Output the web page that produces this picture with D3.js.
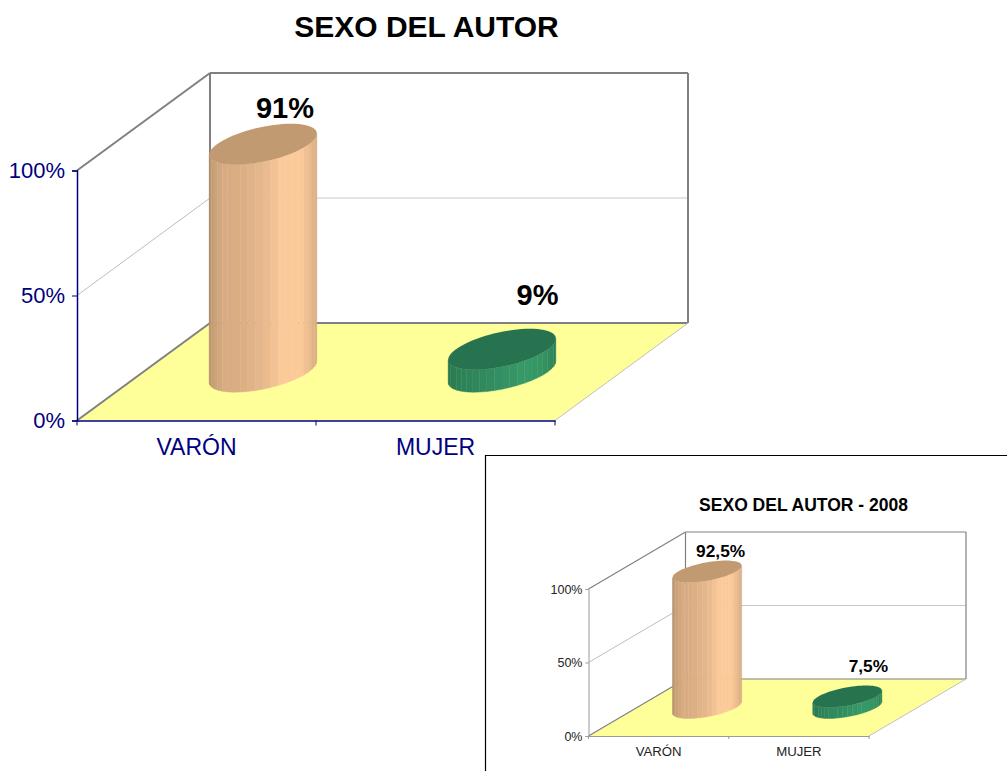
<!DOCTYPE html>
<html><head><meta charset="utf-8">
<style>html,body{margin:0;padding:0;background:#fff;overflow:hidden}svg{display:block}text{font-family:"Liberation Sans",Arial,sans-serif}</style>
<script src="https://cdn.jsdelivr.net/npm/d3@7/dist/d3.min.js"></script>
</head><body><svg id="c" width="1007" height="771"></svg>
<script>
const categories = ["VARÓN", "MUJER"];
const mainValues = [91, 9];
const mainLabels = ["91%", "9%"];
const insetValues = [92.5, 7.5];
const insetLabels = ["92,5%", "7,5%"];
const axisTicks = [0, 50, 100];
const tanStops = ["#ad8965", "#c6a079", "#d8ab82", "#dcae84", "#e6b88c", "#fdcb9b", "#fbc998", "#e2b48a", "#d6ab82"];
const greenStops = ["#28754f", "#2b7d56", "#2e8259", "#31895e", "#339064", "#379a68", "#359565", "#2f8a5e", "#2a7d55"];
const topColors = ["#c19a72", "#27734f"];

const svg = d3.select("#c");

function drawChart(o) {
  const g = svg.append("g");
  const [dxw, dyw] = o.depth;
  const x = d3.scaleBand().domain(categories).range([o.x0, o.x1]);
  const y = d3.scaleLinear().domain([0, 100]).range([o.y0, o.y100]);
  const left = o.x0, right = o.x1;
  const poly = pts => pts.map(p => p.join(",")).join(" ");
  const line = (p, q, color, w) => g.append("line").attr("x1", p[0]).attr("y1", p[1]).attr("x2", q[0]).attr("y2", q[1]).attr("stroke", color).attr("stroke-width", w);

  // floor
  g.append("polygon").attr("fill", "#ffff99").attr("points", poly([
    [left, y(0)], [right, y(0)], [right + dxw, y(0) + dyw], [left + dxw, y(0) + dyw]
  ]));
  // gridline at 50 on both walls
  line([left, y(50)], [left + dxw, y(50) + dyw], "#bdbdbd", 1);
  line([left + dxw, y(50) + dyw], [right + dxw, y(50) + dyw], "#c8c8c8", o.gridW);
  // walls
  const W = "#808080";
  line([left, y(100)], [left + dxw, y(100) + dyw], W, o.wallW);
  line([left + dxw, y(100) + dyw], [right + dxw, y(100) + dyw], W, o.wallW);
  line([left + dxw, y(100) + dyw], [left + dxw, y(0) + dyw], W, o.wallW);
  line([right + dxw, y(100) + dyw], [right + dxw, y(0) + dyw], W, o.wallW);
  line([left + dxw, y(0) + dyw], [right + dxw, y(0) + dyw], W, o.wallW);
  line([left, y(0)], [left + dxw, y(0) + dyw], W, o.wallW);
  line([right, y(0)], [right + dxw, y(0) + dyw], "#c0c0c0", 1);

  // cylinders
  const t0 = Math.atan2(o.ell.dx, o.ell.ax);
  const N = 22;
  o.values.forEach((v, i) => {
    const cx = x(categories[i]) + x.bandwidth() / 2 + dxw / 2;
    const cyBase = y(0) + dyw / 2;
    const h = y(0) - y(v);
    const pt = (t, cy) => [cx + o.ell.ax * Math.cos(t) + o.ell.dx * Math.sin(t), cy - o.ell.dy * Math.sin(t)];
    const colors = d3.scaleLinear().domain(d3.range(9).map(k => k / 8)).range(i === 0 ? tanStops : greenStops);
    const cyl = g.append("g");
    d3.range(N).forEach(k => {
      const a = t0 + Math.PI + Math.PI * k / N, b = t0 + Math.PI + Math.PI * (k + 1) / N;
      const c = colors((k + 0.5) / N);
      cyl.append("polygon").attr("fill", c).attr("stroke", c).attr("stroke-width", 0.4)
        .attr("points", poly([pt(a, cyBase - h), pt(b, cyBase - h), pt(b, cyBase), pt(a, cyBase)]));
    });
    const topPts = d3.range(72).map(k => pt(2 * Math.PI * k / 72, cyBase - h));
    cyl.append("polygon").attr("fill", topColors[i]).attr("points", poly(topPts));
    g.append("text").attr("x", cx + o.labelOff[i][0]).attr("y", cyBase - h + o.labelOff[i][1])
      .attr("text-anchor", "middle").attr("font-weight", "bold").attr("font-size", o.labelSize)
      .attr("fill", "#000").text(o.labels[i]);
  });

  // axes
  const yAxis = d3.axisLeft(y).tickValues(axisTicks).tickFormat(d => d + "%").tickSize(o.tick).tickPadding(o.tickPad);
  const ya = g.append("g").attr("transform", `translate(${left},0)`).call(yAxis);
  ya.selectAll("path").attr("stroke", o.axisColor).attr("stroke-width", o.axisW);
  ya.selectAll("line").attr("stroke", o.axisColor);
  ya.selectAll("text").attr("fill", o.textColor).attr("font-size", o.tickSize);

  const xAxis = d3.axisBottom(x).tickSize(0).tickPadding(o.catPad);
  const xa = g.append("g").attr("transform", `translate(0,${y(0)})`).call(xAxis);
  xa.selectAll("path").attr("stroke", o.axisColor).attr("stroke-width", o.axisW);
  xa.selectAll("text").attr("fill", o.textColor).attr("font-size", o.catSize);
  [left, x(categories[1]), right].forEach(px => {
    line([px, y(0)], [px, y(0) + o.tick], o.axisColor, 1);
  });

  g.append("text").attr("x", o.titleX).attr("y", o.titleY).attr("text-anchor", "middle")
    .attr("font-weight", "bold").attr("font-size", o.titleSize).attr("fill", "#000").text(o.title);
}

drawChart({
  x0: 77, x1: 555, y0: 420.5, y100: 170.5, depth: [133, -97.5],
  ell: { ax: 46, dx: 28, dy: 20.5 }, values: mainValues, labels: mainLabels,
  labelOff: [[22, -26.5], [35.5, -44]], labelSize: 29,
  wallW: 2, gridW: 1, axisColor: "#000080", axisW: 1.5,
  textColor: "#000080", tick: 5, tickPad: 7, tickSize: 22, catPad: 18, catSize: 23,
  title: "SEXO DEL AUTOR", titleX: 426.5, titleY: 37, titleSize: 30
});

// inset frame
svg.append("path").attr("fill", "none").attr("stroke", "#000").attr("stroke-width", 1.2)
  .attr("d", d3.line()([[485.5, 771], [485.5, 455.5], [1007, 455.5]]));

drawChart({
  x0: 588.5, x1: 869, y0: 736, y100: 589, depth: [97, -57],
  ell: { ax: 29, dx: 18.7, dy: 11 }, values: insetValues, labels: insetLabels,
  labelOff: [[13.5, -14.5], [21, -24.5]], labelSize: 17.3,
  wallW: 1.2, gridW: 1, axisColor: "#9a9a9a", axisW: 1,
  textColor: "#222", tick: 3, tickPad: 3, tickSize: 12.5, catPad: 11, catSize: 13.2,
  title: "SEXO DEL AUTOR - 2008", titleX: 803.5, titleY: 511, titleSize: 17.5
});
</script></body></html>
